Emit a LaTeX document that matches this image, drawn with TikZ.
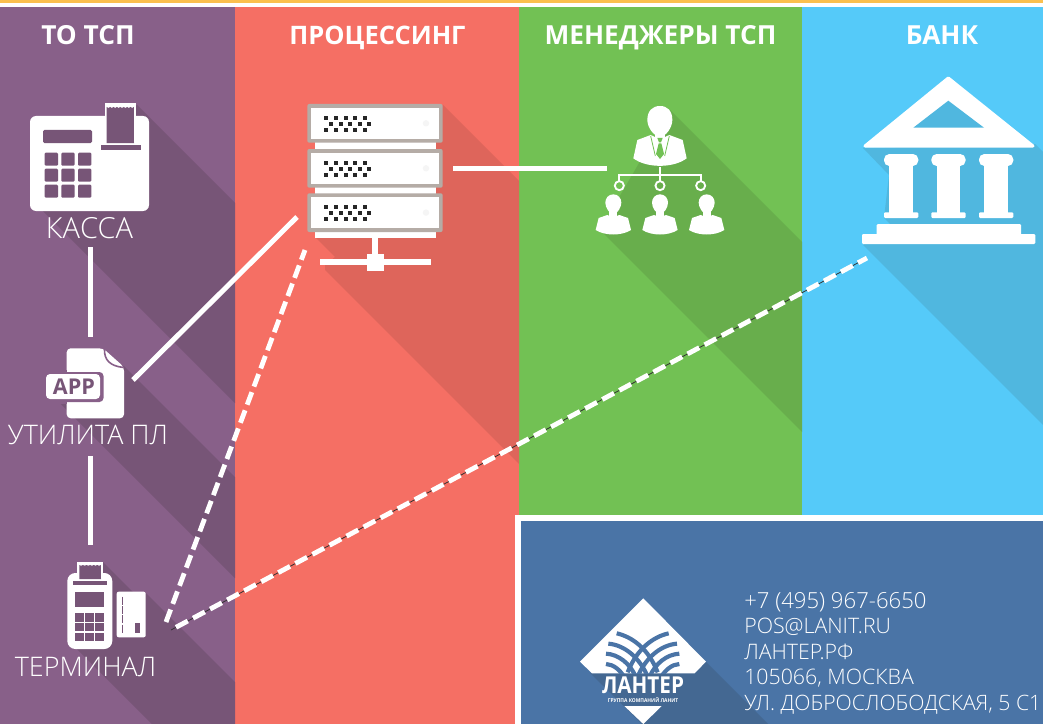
\documentclass[tikz,border=0pt]{standalone}
\usepackage{fontspec}
\setmainfont{Open Sans Light}[BoldFont=Open Sans Bold]
\definecolor{cPurple}{HTML}{886089}
\definecolor{cPurpleD}{HTML}{775577}
\definecolor{cRed}{HTML}{F56F64}
\definecolor{cRedD}{HTML}{DE655B}
\definecolor{cGreen}{HTML}{72C154}
\definecolor{cGreenD}{HTML}{68AE4C}
\definecolor{cBlue}{HTML}{55CAF9}
\definecolor{cBlueD}{HTML}{50B7DF}
\definecolor{cPanel}{HTML}{4A74A6}
\definecolor{cPanelD}{HTML}{446892}
\definecolor{cTop}{HTML}{FBC04F}
\definecolor{cFrame}{HTML}{B5ACA6}
\tikzset{
  head/.style={text=white,font=\fontsize{19.7pt}{22pt}\selectfont\bfseries,anchor=base,inner sep=0pt},
  lab/.style={text=white,font=\fontsize{20.2pt}{22pt}\selectfont,anchor=base,inner sep=0pt},
  contact/.style={text=white,font=\fontsize{16pt}{18pt}\selectfont,anchor=base west,inner sep=0pt},
  link/.style={draw=white,line width=3.75pt},
  dashlink/.style={draw=white,line width=3.6pt,dash pattern=on 10pt off 4.5pt},
  zoomfour/.style={shift={(580,90)},x=.25pt,y=-.25pt},
  zoomlogo/.style={shift={(575,595)},x=.25pt,y=-.25pt}
}
\begin{document}
\begin{tikzpicture}[x=.75pt,y=-.75pt]
\useasboundingbox (0,0) rectangle (1043,724);
% background
\fill[white] (0,0) rectangle (1043,724);
\fill[cTop] (0,0) rectangle (1043,3);
\fill[cPurple] (0,7) rectangle (235,724);
\fill[cRed] (235,7) rectangle (519,724);
\fill[cGreen] (519,7) rectangle (802,724);
\fill[cBlue] (802,7) rectangle (1043,724);
% long shadows
\fill[cPurpleD] (137,105) -- (235,203) -- (235,403) -- (35,203) -- cycle;
\fill[cPurpleD] (124,366) -- (235,477) -- (235,578) -- (55,398) -- cycle;
\fill[cPurpleD] (103,562) -- (133,592) -- (145,592) -- (235,682) -- (235,724) -- (152,724) -- (67,639) -- cycle;
\fill[cRedD] (443,105) -- (519,181) -- (519,464) -- (325,270) -- (325,265) -- (335,257) -- (315,237) -- cycle;
\fill[cGreenD] (670,110) -- (802,242) -- (802,432) -- (600,230) -- cycle;
\fill[cBlueD] (1035,144) -- (1043,152) -- (1043,425) -- (863,245) -- (877,235) -- (877,224) -- (890,224) -- (884,218) -- (889,175) -- (863,148) -- cycle;
% panel
\fill[white] (515,515) rectangle (1043,724);
\fill[cPanel] (521,521) rectangle (1043,724);
\fill[cPanelD] (706,662) -- (768,724) -- (642,724) -- (590,673) -- cycle;
% headings
\node[head] (hTo) at (88,45) {ТО ТСП};
\node[head,font=\fontsize{19.1pt}{22pt}\selectfont\bfseries] (hProc) at (377.5,45) {ПРОЦЕССИНГ};
\node[head] (hMgr) at (660.5,45) {МЕНЕДЖЕРЫ ТСП};
\node[head] (hBank) at (942,45) {БАНК};
% kassa icon
\fill[white,rounded corners=4.5pt] (30,116) rectangle (149,211);
\fill[white] (104.7,103) rectangle (136,125);
\fill[cPurpleD] (106.7,143) -- (106.7,107) \foreach \i in {0,...,7}{ -- ++(1.7,1) -- ++(1.7,-1)} -- (134,143) -- cycle;
\fill[cPurpleD] (100.7,144.5) rectangle (140.7,150);
\fill[cPurpleD,rounded corners=1pt] (43,130) rectangle (92,143);
\foreach \kx in {44.7,61.3,78}{\foreach \ky in {152.7,168.7,184.7}{
  \fill[cPurpleD,rounded corners=.8pt] (\kx,\ky) rectangle (\kx+13.3,\ky+13);}}
\node[lab,font=\fontsize{21.8pt}{24pt}\selectfont] (lKassa) at (89.5,238.8) {КАССА};
% app icon
\fill[white,rounded corners=3pt] (66.7,348.3) -- (103,348.3) -- (124,367) -- (124,418.3) -- (66.7,418.3) -- cycle;
\draw[cPurple,line width=1.2pt] (104.5,349) .. controls (104,360) and (110,366) .. (123.5,367.5);
\fill[cPurple,rounded corners=3pt] (42,372) rectangle (103.5,402);
\fill[cPurple] (42,370) rectangle (66.7,404);
\fill[white,rounded corners=3pt] (46,374) rectangle (100,399);
\node[inner sep=0pt,text=cPurpleD] (tApp) at (74,386.5) {\resizebox{31.5pt}{11.7pt}{\bfseries APP}};
\node[lab] (lApp) at (88,444) {УТИЛИТА ПЛ};
% terminal icon
\fill[white,rounded corners=6pt] (67.3,573) rectangle (112.3,649);
\fill[white] (77,562) rectangle (103,580);
\fill[cPurpleD] (79.3,579) -- (79.3,565) \foreach \i in {0,...,5}{ -- ++(1.8,.8) -- ++(1.8,-.8)} -- (101,579) -- cycle;
\fill[cPurpleD] (73,580.7) rectangle (106.7,585.3);
\fill[cPurpleD] (75,591.7) rectangle (104.3,607.3);
\foreach \kx in {75,85.2,95.4}{\foreach \ky in {613.3,623,632.7}{
  \fill[cPurpleD] (\kx,\ky) rectangle (\kx+8.9,\ky+8.3);}}
\fill[white,rounded corners=1.5pt] (116.7,591.7) rectangle (145.7,637.3);
\draw[cPurpleD,line width=1.2pt,dash pattern=on 6pt off 1pt] (122.3,596.7) -- (122.3,633.3);
\fill[cPurpleD] (135,622.7) rectangle (140,633.3);
\node[lab] (lTerm) at (85.5,676.7) {ТЕРМИНАЛ};
% server icon
\fill[white] (315,140) rectangle (436,237.7);
\foreach \tp in {104,149,193.3}{
  \fill[cFrame,rounded corners=1.5pt] (307.3,\tp) rectangle (442.7,\tp+38.7);
  \fill[white] (311.3,\tp+4) rectangle (438.7,\tp+34.7);
  \fill[black!4!white] (426,\tp+19.3) circle[radius=2.4pt];
  \foreach \dx in {326,336,346,355,365}{\fill[black!85] (\dx-2,\tp+12) rectangle (\dx+2,\tp+16);
    \fill[black!85] (\dx-2,\tp+24) rectangle (\dx+2,\tp+28);}
  \foreach \dx in {331,341,350,360,369}{\fill[black!85] (\dx-2,\tp+18) rectangle (\dx+2,\tp+22);}
}
\fill[white] (372,237) rectangle (378.3,256);
\fill[white] (320,259) rectangle (431,265);
\fill[white] (367,254) rectangle (384,271);
% manager icon
\begin{scope}[zoomfour]
  \fill[white] (240,48) .. controls (262,48) and (277,62) .. (277,90) .. controls (277,112) and (258,140) .. (240,140) .. controls (222,140) and (202,112) .. (202,90) .. controls (202,62) and (218,48) .. (240,48) -- cycle;
  \fill[white] (225,125) rectangle (255,150);
  \fill[white] (160,205) -- (172,150) -- (212,135) -- (240,148) -- (268,135) -- (308,150) -- (320,205) .. controls (280,235) and (200,235) .. (160,205) -- cycle;
  \fill[cGreen] (232,144) -- (248,144) -- (243,157) -- (237,157) -- cycle;
  \fill[cGreen] (236,160) -- (244,160) -- (252,192) -- (240,207) -- (228,192) -- cycle;
  \draw[cGreen,line width=.6pt] (212,138) -- (226,198);
  \draw[cGreen,line width=.6pt] (268,138) -- (254,198);
  \draw[white,line width=1.3pt] (240,232) -- (240,274);
  \draw[white,line width=1.3pt] (118,274) -- (118,255) -- (362,255) -- (362,274);
  \foreach \cx in {118,240,362}{\draw[white,line width=1.4pt] (\cx,287) circle[radius=3.4pt];}
  \foreach \ox in {-140,0,140}{
    \fill[white] (240+\ox,313) .. controls (255+\ox,313) and (264+\ox,325) .. (264+\ox,338) .. controls (264+\ox,352) and (252+\ox,372) .. (240+\ox,372) .. controls (228+\ox,372) and (216+\ox,352) .. (216+\ox,338) .. controls (216+\ox,325) and (225+\ox,313) .. (240+\ox,313) -- cycle;
    \fill[white] (228+\ox,360) rectangle (252+\ox,385);
    \fill[white] (187+\ox,420) -- (196+\ox,384) -- (222+\ox,375) -- (240+\ox,382) -- (258+\ox,375) -- (284+\ox,384) -- (293+\ox,420) .. controls (265+\ox,438) and (215+\ox,438) .. (187+\ox,420) -- cycle;
  }
\end{scope}
% bank icon
\fill[white,draw=white,line width=2.25pt,line join=round] (948.3,78) -- (1033,146) -- (865,146) -- cycle;
\fill[cBlueD] (948.3,100.7) -- (984,127.7) -- (913.3,127.7) -- cycle;
\foreach \bx in {884,931.3,979}{
  \fill[white,rounded corners=4pt] (\bx,154) rectangle (\bx+34.3,166);
  \fill[white] (\bx+5.3,160) rectangle (\bx+28.7,214);
  \fill[white,rounded corners=.8pt] (\bx,212.3) rectangle (\bx+34.3,218);
}
\fill[white,rounded corners=.8pt] (876.7,224) rectangle (1021,238);
\fill[white,rounded corners=.8pt] (862,234) rectangle (1035.3,244);
% logo
\fill[white] (643.3,598.3) -- (706,661.7) -- (694.5,673.3) -- (592,673.3) -- (580,661.7) -- cycle;
\fill[white] (624.3,706) -- (661.7,706) -- (643.3,724) -- cycle;
\begin{scope}[zoomlogo]
  \clip (50,60) rectangle (356,236);
  \foreach \m in {1,-1}{
    \begin{scope}[shift={(203,0)},xscale=\m,shift={(-203,0)}]
    \draw[cPanel,line width=3.1pt] (125,115) .. controls (170,125) and (220,160) .. (248,232);
    \draw[cPanel,line width=3.1pt] (100,146) .. controls (150,150) and (195,190) .. (218,245);
    \draw[cPanel,line width=3.1pt] (93,176) .. controls (130,178) and (165,205) .. (182,245);
    \draw[cPanel,line width=3.1pt] (93,207) .. controls (115,208) and (135,225) .. (147,245);
    \end{scope}
  }
\end{scope}
\node[inner sep=0pt,text=white] (tLogo) at (643,685) {\resizebox{61.5pt}{12.5pt}{\bfseries ЛАНТЕР}};
\node[inner sep=0pt,text=white] (tLogoSub) at (643,700.2) {\resizebox{52.8pt}{3.75pt}{\bfseries ГРУППА КОМПАНИЙ ЛАНИТ}};
% contacts
\node[contact,font=\fontsize{16.6pt}{18pt}\selectfont] (c1) at (744,608.3) {+7 (495) 967-6650};
\node[contact] (c2) at (744,633.6) {POS@LANIT.RU};
\node[contact] (c3) at (744,659) {ЛАНТЕР.РФ};
\node[contact] (c4) at (744,684.5) {105066, МОСКВА};
\node[contact,font=\fontsize{15.9pt}{18pt}\selectfont] (c5) at (744,710) {УЛ. ДОБРОСЛОБОДСКАЯ, 5 С1};
% connectors
\coordinate (kassaOut) at (90,247);
\coordinate (appIn) at (90,337);
\coordinate (appOut) at (90,456);
\coordinate (termIn) at (90,545);
\coordinate (appRight) at (133,380);
\coordinate (serverLeft) at (297,217);
\coordinate (serverRight) at (453,168.5);
\coordinate (mgrLeft) at (607,168.5);
\coordinate (termA) at (166,622);
\coordinate (serverBottom) at (305,250);
\coordinate (termB) at (171,630);
\coordinate (termBw) at (176,627.3);
\coordinate (bankB) at (867,258);
\draw[link] (kassaOut) -- (appIn);
\draw[link] (appOut) -- (termIn);
\draw[link] (appRight) -- (serverLeft);
\draw[link,line width=3.2pt] (serverRight) -- (mgrLeft);
\draw[dashlink] (termA) -- (serverBottom);
\draw[black!80,line width=.6pt] (termB) -- (bankB);
\draw[dashlink] (termBw) -- (bankB);
\end{tikzpicture}
\end{document}
